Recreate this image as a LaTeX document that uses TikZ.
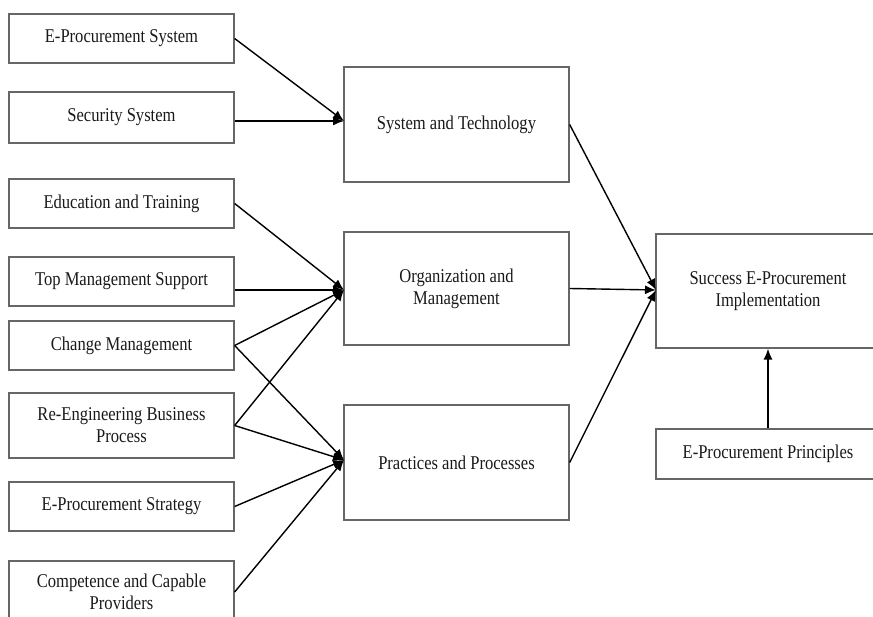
\documentclass[tikz,border=0pt]{standalone}
\usepackage{fontspec}
\setmainfont{Liberation Serif}[FakeStretch=0.85]
\usetikzlibrary{arrows.meta}
\begin{document}
\begin{tikzpicture}[x=1pt,y=-1pt,
  box/.style={draw=black!60,line width=1.3pt,rectangle,minimum width=225pt,align=center,
    inner sep=0pt,font=\fontsize{19.5}{22}\selectfont,text=black!90},
  conn/.style={line width=1.4pt,-{Latex[length=11pt,width=9pt]}}]
\useasboundingbox (0,0) rectangle (873,617);
% left column
\node[box,minimum height=49pt] (eps) at (121.5,38.5) {E-Procurement System};
\node[box,minimum height=51pt] (sec) at (121.5,117.5) {Security System};
\node[box,minimum height=49pt] (edu) at (121.5,203.5) {Education and Training};
\node[box,minimum height=49pt] (top) at (121.5,281.5) {Top Management Support};
\node[box,minimum height=49pt] (cm) at (121.5,345.5) {Change Management};
\node[box,minimum height=65pt] (re) at (121.5,425.5) {Re-Engineering Business\\Process};
\node[box,minimum height=49pt] (strat) at (121.5,506.5) {E-Procurement Strategy};
\node[box,minimum height=62pt] (comp) at (121.5,592) {Competence and Capable\\Providers};
% middle column
\node[box,minimum height=115pt] (st) at (456.5,124.5) {System and Technology};
\node[box,minimum height=113pt] (om) at (456.5,288.5) {Organization and\\Management};
\node[box,minimum height=115pt] (pp) at (456.5,462.5) {Practices and Processes};
% right column
\node[box,minimum width=224pt,minimum height=114pt] (succ) at (768,291) {Success E-Procurement\\Implementation};
\node[box,minimum width=224pt,minimum height=50pt] (pri) at (768,454) {E-Procurement Principles};
% arrow targets
\coordinate (stin) at (344,121);
\coordinate (omin) at (344,290);
\coordinate (ppin) at (344,460);
\coordinate (succin) at (656,290);
% connectors
\draw[conn] (eps.east) -- (stin);
\draw[conn] (sec.east |- stin) -- (stin);
\draw[conn] (edu.east) -- (omin);
\draw[conn] (top.east |- omin) -- (omin);
\draw[conn] (cm.east) -- (omin);
\draw[conn] (re.east) -- (omin);
\draw[conn] (cm.east) -- (ppin);
\draw[conn] (re.east) -- (ppin);
\draw[conn] (strat.east) -- (ppin);
\draw[conn] (comp.east) -- (ppin);
\draw[conn] (st.east) -- (succin);
\draw[conn] (om.east) -- (succin);
\draw[conn] (pp.east) -- (succin);
\draw[conn] (pri.north) -- (succ.south);
\end{tikzpicture}
\end{document}
